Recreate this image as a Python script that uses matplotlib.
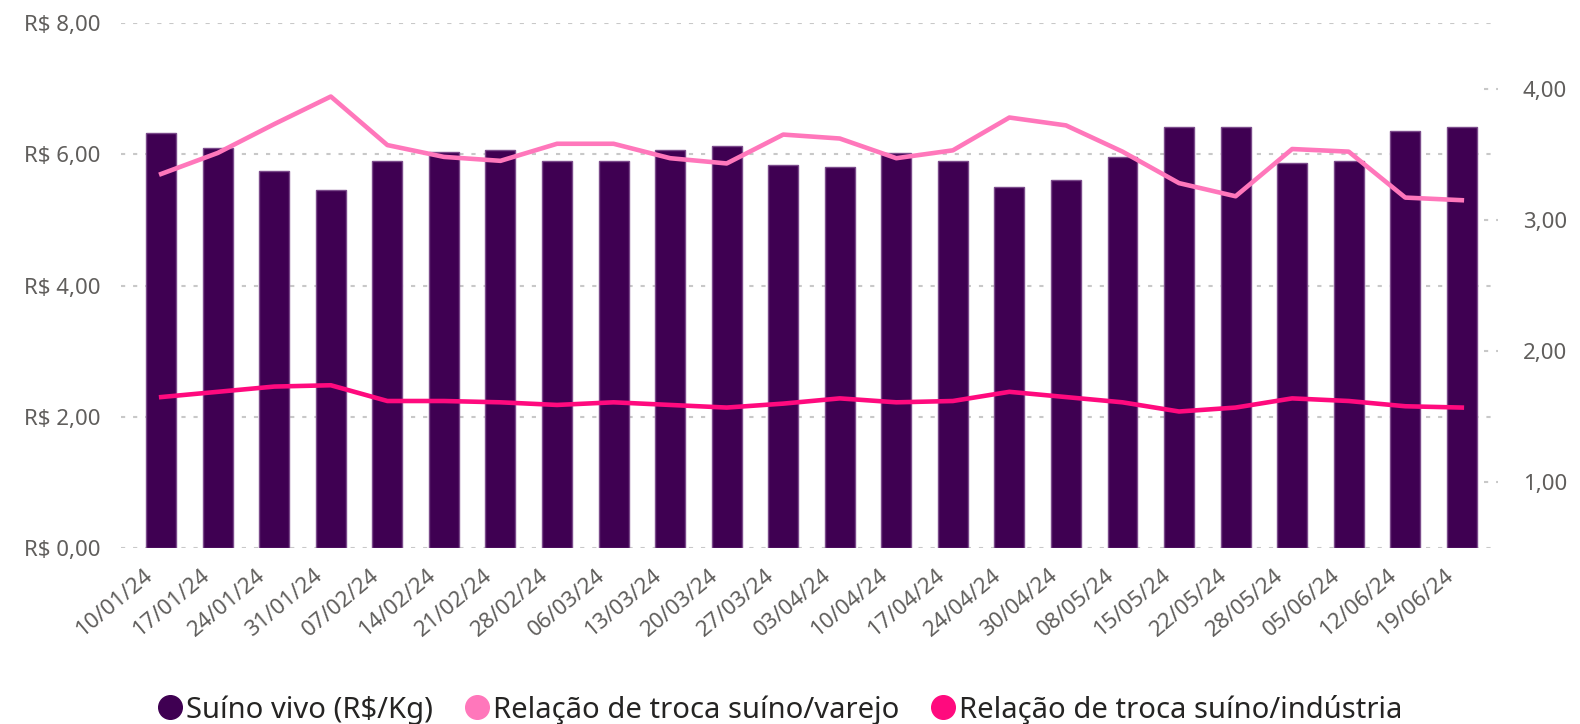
import numpy as np
import matplotlib
matplotlib.use("Agg")
import matplotlib.pyplot as plt
import matplotlib.transforms as mtransforms
from matplotlib.lines import Line2D
from matplotlib.ticker import FuncFormatter

plt.rcParams["font.family"] = ["Noto Sans", "DejaVu Sans"]

datas = ["10/01/24", "17/01/24", "24/01/24", "31/01/24", "07/02/24", "14/02/24",
         "21/02/24", "28/02/24", "06/03/24", "13/03/24", "20/03/24", "27/03/24",
         "03/04/24", "10/04/24", "17/04/24", "24/04/24", "30/04/24", "08/05/24",
         "15/05/24", "22/05/24", "28/05/24", "05/06/24", "12/06/24", "19/06/24"]

# suino vivo R$/kg (eixo esquerdo)
suino_vivo = [6.32, 6.10, 5.75, 5.46, 5.90, 6.04, 6.07, 5.90, 5.90, 6.07, 6.12, 5.84,
              5.81, 6.02, 5.90, 5.50, 5.61, 5.96, 6.42, 6.42, 5.86, 5.90, 6.36, 6.41]

# relacoes de troca (eixo direito)
troca_varejo = [3.35, 3.51, 3.73, 3.94, 3.57, 3.48, 3.45, 3.58, 3.58, 3.47, 3.43, 3.65,
                3.62, 3.47, 3.53, 3.78, 3.72, 3.52, 3.28, 3.18, 3.54, 3.52, 3.17, 3.15]
troca_industria = [1.65, 1.69, 1.73, 1.74, 1.62, 1.62, 1.61, 1.59, 1.61, 1.59, 1.57, 1.60,
                   1.64, 1.61, 1.62, 1.69, 1.65, 1.61, 1.54, 1.57, 1.64, 1.62, 1.58, 1.57]

left_ticks = [0, 2, 4, 6, 8]
right_ticks = [1, 2, 3, 4]

c_bar = "#3F0052"
c_varejo = "#FF77BB"
c_ind = "#FF0A7E"
c_txt = "#605E5C"
c_grid = "#C8C8C8"

fig = plt.figure(figsize=(15.8, 7.24), dpi=100)
ax = fig.add_axes([0.0766, 0.2431, 0.8715, 0.7251])
ax2 = ax.twinx()

x = np.arange(len(datas))
ax.bar(x, suino_vivo, width=0.53, color=c_bar, edgecolor="#7B4B8B", linewidth=1.0, zorder=2)
ax.set_xlim(-0.71, 23.64)
ax.set_ylim(0, 8)
ax.set_yticks(left_ticks)
ax.yaxis.set_major_formatter(FuncFormatter(lambda v, p: ("R$ %.2f" % v).replace(".", ",")))
ax.grid(axis="y", color=c_grid, linestyle=(0, (2, 3.8)), linewidth=1.5)
ax.set_axisbelow(True)

ax.set_xticks(x)
ax.set_xticklabels(datas, rotation=40, ha="right", rotation_mode="anchor")
ax.tick_params(axis="x", length=0, pad=12, labelsize=16, labelcolor=c_txt)
ax.tick_params(axis="y", length=0, pad=15, labelsize=16, labelcolor=c_txt)
offset = mtransforms.ScaledTranslation(-18 / 100, 0, fig.dpi_scale_trans)
for lab in ax.get_xticklabels():
    lab.set_transform(lab.get_transform() + offset)

ax2.plot(x, troca_varejo, color=c_varejo, linewidth=3.3, solid_joinstyle="round", zorder=3)
ax2.plot(x, troca_industria, color=c_ind, linewidth=3.3, solid_joinstyle="round", zorder=3)
ax2.set_ylim(0.5, 4.5)
ax2.set_yticks(right_ticks)
ax2.yaxis.set_major_formatter(FuncFormatter(lambda v, p: ("%.2f" % v).replace(".", ",")))
ax2.tick_params(axis="y", length=0, pad=18, labelsize=16, labelcolor=c_txt)
ax2.hlines(right_ticks, 0.99, 1.0, transform=ax2.get_yaxis_transform(),
           color=c_grid, linestyle=(0, (2, 3.8)), linewidth=1.5)

for a in (ax, ax2):
    for s in a.spines.values():
        s.set_visible(False)

handles = [
    Line2D([], [], marker="o", linestyle="none", markersize=17, color=c_bar),
    Line2D([], [], marker="o", linestyle="none", markersize=17, color=c_varejo),
    Line2D([], [], marker="o", linestyle="none", markersize=17, color=c_ind),
]
labels = ["Suíno vivo (R$/Kg)", "Relação de troca suíno/varejo", "Relação de troca suíno/indústria"]
fig.legend(handles, labels, loc="center", bbox_to_anchor=(0.493, 0.02), ncol=3, frameon=False,
           fontsize=21, handletextpad=0.05, columnspacing=1.0, handlelength=1.0,
           labelcolor="#252423")

fig.savefig("out.png", dpi=100)
